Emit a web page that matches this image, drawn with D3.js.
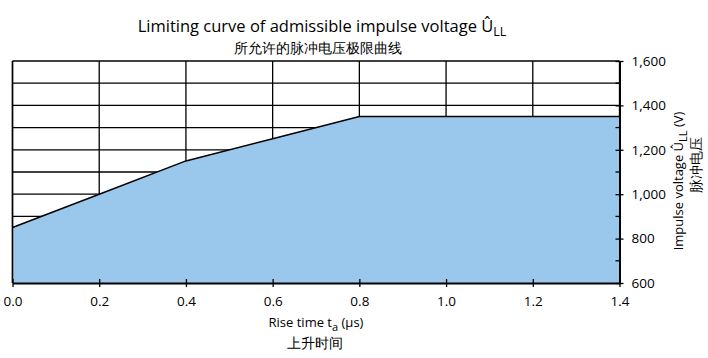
<!DOCTYPE html>
<html><head><meta charset="utf-8">
<script src="https://cdn.jsdelivr.net/npm/d3@7"></script>
<style>body{margin:0;background:#fff}svg{display:block}text{font-family:"Open Sans","Noto Sans",sans-serif;fill:#000}</style>
</head><body><svg id="c" width="708" height="358"></svg>
<script>
const riseTime = [0.0, 0.2, 0.4, 0.6, 0.8, 1.0, 1.2, 1.4];
const voltage  = [850, 1000, 1150, 1250, 1350, 1350, 1350, 1350];
const xTicks = [0, 0.2, 0.4, 0.6, 0.8, 1.0, 1.2, 1.4];
const yTicks = [600, 800, 1000, 1200, 1400, 1600];
const yMinor = [700, 900, 1100, 1300, 1500];
const yGrid = [700, 800, 900, 1000, 1100, 1200, 1300, 1400, 1500, 1600];

const svg = d3.select("#c");
const L = 12.5, R = 619.5, T = 61, B = 283;
const x = d3.scaleLinear().domain([0, 1.4]).range([L, R]);
const y = d3.scaleLinear().domain([600, 1600]).range([B, T]);
const data = riseTime.map((t, i) => ({t, v: voltage[i]}));

// grid
svg.append("g").selectAll("line.h").data(yGrid).join("line")
  .attr("x1", L).attr("x2", R).attr("y1", d => y(d)).attr("y2", d => y(d))
  .attr("stroke", "#000").attr("stroke-width", 1.3);
svg.append("g").selectAll("line.v").data(xTicks).join("line")
  .attr("x1", d => x(d)).attr("x2", d => x(d)).attr("y1", T).attr("y2", B)
  .attr("stroke", "#000").attr("stroke-width", 1.3);

// area
svg.append("path").datum(data)
  .attr("d", d3.area().x(d => x(d.t)).y0(y(600)).y1(d => y(d.v)))
  .attr("fill", "#9ac8ec");
svg.append("path").datum(data)
  .attr("d", d3.line().x(d => x(d.t)).y(d => y(d.v)))
  .attr("fill", "none").attr("stroke", "#000").attr("stroke-width", 1.5);

// left border
svg.append("line").attr("x1", L).attr("x2", L).attr("y1", T).attr("y2", B)
  .attr("stroke", "#000").attr("stroke-width", 1.5);

// x axis
const xa = svg.append("g").attr("transform", `translate(0,${B})`)
  .call(d3.axisBottom(x).tickValues(xTicks).tickFormat(d3.format(".1f")).tickSize(0).tickPadding(13));
xa.select(".domain").attr("stroke-width", 2);
xa.selectAll("text").attr("font-size", 13.5);
xa.selectAll(".tick").append("line").attr("y1", -4).attr("y2", 4).attr("stroke", "#000").attr("stroke-width", 1.3);

// y axis right
const ya = svg.append("g").attr("transform", `translate(${R},0)`)
  .call(d3.axisRight(y).tickValues(yTicks).tickFormat(d3.format(",")).tickSize(0).tickPadding(12));
ya.select(".domain").attr("stroke-width", 2);
ya.selectAll("text").attr("font-size", 13.5);
ya.selectAll(".tick").append("line").attr("x1", -4).attr("x2", 4).attr("stroke", "#000").attr("stroke-width", 1.3);
svg.append("g").selectAll("line").data(yMinor).join("line")
  .attr("x1", R - 4).attr("x2", R).attr("y1", d => y(d)).attr("y2", d => y(d))
  .attr("stroke", "#000").attr("stroke-width", 1.3);

// titles
const t1 = svg.append("text").attr("x", 322).attr("y", 32).attr("text-anchor", "middle").attr("font-size", 16.5);
t1.append("tspan").text("Limiting curve of admissible impulse voltage Û");
t1.append("tspan").attr("dy", 4).attr("font-size", 12.5).text("LL");
svg.append("text").attr("x", 318).attr("y", 53).attr("text-anchor", "middle").attr("font-size", 13.5)
  .attr("font-family", "Noto Sans CJK SC").text("所允许的脉冲电压极限曲线");

const xl = svg.append("text").attr("x", 316).attr("y", 327).attr("text-anchor", "middle").attr("font-size", 13);
xl.append("tspan").text("Rise time t");
xl.append("tspan").attr("dy", 4).attr("font-size", 11).text("a");
xl.append("tspan").attr("dy", -4).text("  (μs)");
svg.append("text").attr("x", 315).attr("y", 348).attr("text-anchor", "middle").attr("font-size", 13.5)
  .attr("font-family", "Noto Sans CJK SC").text("上升时间");

const yl = svg.append("text").attr("transform", "translate(683,181) rotate(-90)").attr("text-anchor", "middle").attr("font-size", 13);
yl.append("tspan").text("Impulse voltage Û");
yl.append("tspan").attr("dy", 4).attr("font-size", 11).text("LL");
yl.append("tspan").attr("dy", -4).text(" (V)");
svg.append("text").attr("transform", "translate(701,165) rotate(-90)").attr("text-anchor", "middle").attr("font-size", 13.5)
  .attr("font-family", "Noto Sans CJK SC").text("脉冲电压");
</script></body></html>
